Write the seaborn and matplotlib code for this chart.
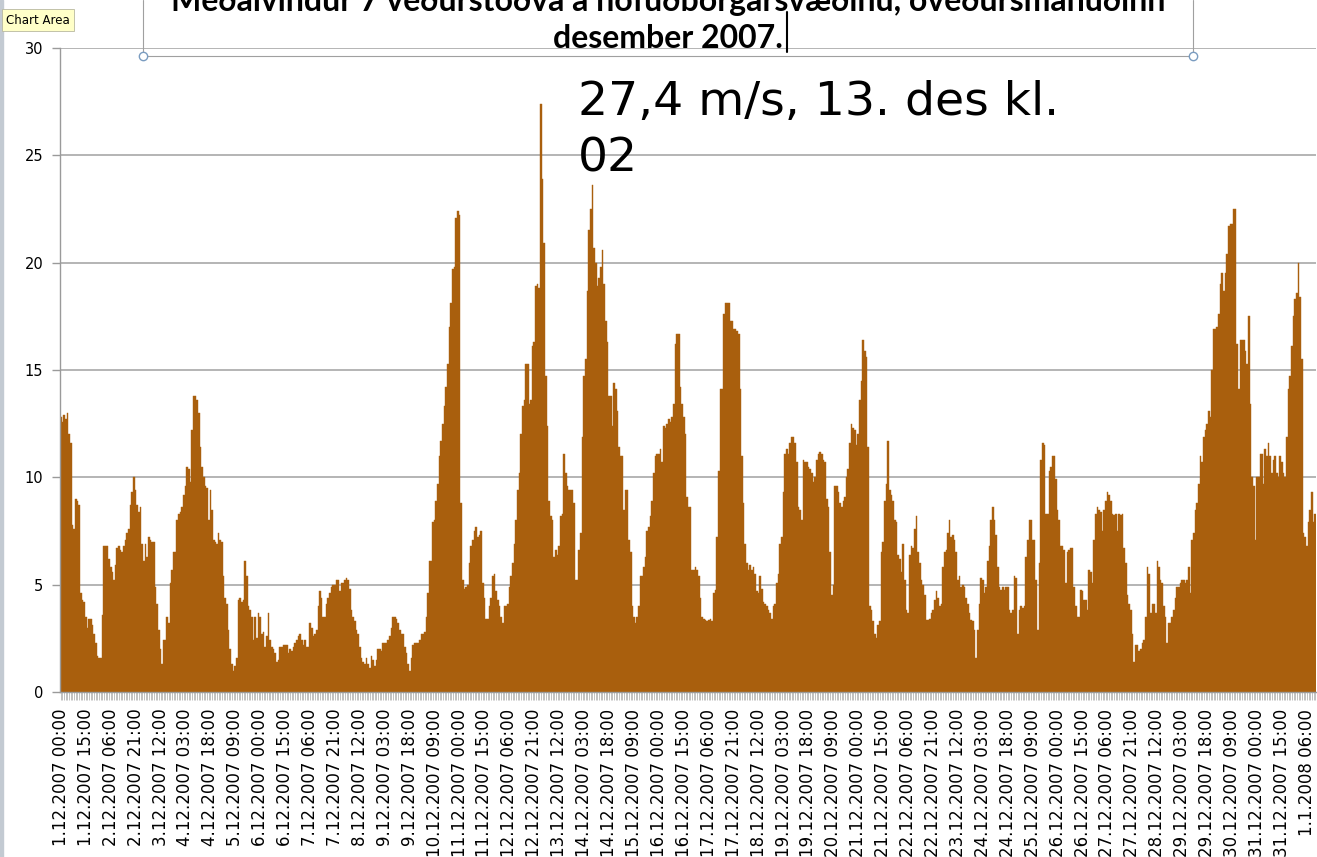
import numpy as np
import pandas as pd
import matplotlib.pyplot as plt
from matplotlib.lines import Line2D
from matplotlib.patches import Rectangle
import seaborn as sns

# hourly mean wind (m/s), one list per day
dec01 = [12.8, 12.6, 12.9, 12.7, 13.0, 12.0, 11.6, 7.8, 7.6, 9.0, 8.9, 8.7, 4.6, 4.3, 4.2, 3.5, 3.0, 3.4, 3.4, 3.1, 2.7, 2.3, 1.7, 1.6]
dec02 = [1.6, 3.6, 6.8, 6.8, 6.8, 6.2, 5.8, 5.6, 5.2, 5.9, 6.7, 6.8, 6.6, 6.5, 6.8, 7.1, 7.4, 7.6, 8.7, 9.3, 10.0, 9.4, 8.7, 8.4]
dec03 = [8.6, 6.9, 6.1, 6.9, 6.3, 7.2, 7.1, 7.0, 7.0, 4.9, 4.1, 2.9, 2.0, 1.3, 2.4, 2.4, 3.5, 3.2, 5.1, 5.7, 6.5, 6.5, 8.0, 8.3]
dec04 = [8.4, 8.6, 9.2, 9.6, 10.5, 10.4, 9.8, 12.2, 13.8, 13.8, 13.6, 13.0, 11.4, 10.5, 10.0, 9.6, 9.5, 8.0, 9.4, 8.5, 7.1, 7.0, 6.9, 7.4]
dec05 = [7.1, 7.0, 5.4, 4.4, 4.1, 2.9, 2.0, 1.3, 1.0, 1.2, 1.6, 4.3, 4.4, 4.2, 4.3, 6.1, 5.4, 4.0, 3.8, 3.5, 2.4, 3.5, 2.5, 3.7]
dec06 = [3.5, 2.7, 2.8, 2.1, 2.6, 3.7, 2.4, 2.1, 2.0, 1.8, 1.4, 1.5, 2.1, 2.1, 2.2, 2.2, 2.2, 1.8, 2.0, 1.9, 2.1, 2.3, 2.4, 2.6]
dec07 = [2.7, 2.4, 2.2, 2.4, 2.1, 2.1, 3.2, 3.0, 2.6, 2.7, 2.9, 4.0, 4.7, 4.4, 3.5, 3.5, 4.1, 4.4, 4.6, 4.9, 5.0, 5.0, 5.2, 5.2]
dec08 = [4.7, 5.1, 5.1, 5.2, 5.3, 5.2, 4.8, 3.8, 3.5, 3.3, 2.9, 2.7, 2.1, 1.6, 1.4, 1.3, 1.6, 1.3, 1.1, 1.7, 1.5, 1.2, 1.5, 2.0]
dec09 = [2.0, 1.9, 2.3, 2.3, 2.3, 2.4, 2.6, 3.0, 3.5, 3.5, 3.4, 3.2, 2.9, 2.7, 2.7, 2.1, 1.8, 1.3, 1.0, 1.6, 2.2, 2.3, 2.3, 2.3]
dec10 = [2.4, 2.7, 2.7, 2.8, 3.5, 4.6, 6.1, 6.1, 7.9, 8.0, 8.9, 9.7, 11.0, 11.7, 12.5, 13.3, 14.2, 15.3, 17.0, 18.1, 19.7, 19.8, 22.1, 22.4]
dec11 = [22.2, 8.8, 5.2, 4.8, 4.9, 5.0, 6.0, 6.8, 7.1, 7.5, 7.7, 7.2, 7.3, 7.5, 5.1, 4.4, 3.4, 3.4, 4.0, 4.4, 5.4, 5.5, 4.7, 4.3]
dec12 = [4.0, 3.5, 3.2, 4.0, 4.0, 4.1, 4.9, 5.4, 6.0, 6.9, 8.0, 9.4, 10.2, 12.0, 13.3, 13.6, 15.3, 15.3, 13.4, 13.6, 16.1, 16.3, 18.9, 19.0]
dec13 = [18.8, 27.4, 23.9, 20.9, 14.7, 12.4, 8.9, 8.2, 8.0, 6.3, 6.6, 6.4, 6.8, 8.2, 8.3, 11.1, 10.2, 9.6, 9.4, 9.4, 9.4, 8.8, 5.2, 5.2]
dec14 = [6.6, 7.4, 11.9, 14.7, 15.5, 18.7, 21.5, 22.5, 23.6, 20.7, 20.0, 18.9, 19.3, 19.8, 20.6, 19.0, 17.3, 16.3, 13.8, 13.8, 12.4, 14.4, 14.1, 13.1]
dec15 = [11.4, 11.0, 11.0, 8.5, 9.4, 9.4, 7.1, 6.5, 4.0, 3.5, 3.2, 3.5, 4.0, 5.4, 5.4, 5.8, 6.3, 7.5, 7.7, 8.2, 8.9, 10.2, 11.0, 11.1]
dec16 = [11.1, 11.3, 10.7, 12.4, 12.3, 12.5, 12.7, 12.6, 12.8, 13.4, 16.2, 16.7, 16.7, 14.2, 13.4, 12.8, 12.0, 9.1, 8.6, 8.6, 5.7, 5.7, 5.8, 5.7]
dec17 = [5.4, 4.4, 3.5, 3.4, 3.35, 3.3, 3.35, 3.4, 3.3, 4.6, 4.75, 7.2, 10.3, 14.1, 14.1, 17.6, 18.1, 18.1, 18.1, 17.3, 17.3, 16.9, 16.9, 16.8]
dec18 = [16.7, 14.1, 11.0, 8.8, 6.9, 6.0, 5.7, 5.9, 5.7, 5.8, 5.5, 4.7, 4.6, 5.4, 4.8, 4.2, 4.1, 4.0, 3.8, 3.7, 3.4, 4.0, 4.1, 5.1]
dec19 = [5.5, 6.9, 7.2, 9.3, 11.1, 11.3, 11.1, 11.6, 11.9, 11.9, 11.6, 10.7, 8.6, 8.5, 8.0, 10.8, 10.7, 10.7, 10.5, 10.4, 10.2, 9.8, 10.0, 10.8]
dec20 = [11.1, 11.2, 11.1, 10.8, 10.7, 9.0, 8.6, 6.5, 4.5, 5.0, 9.6, 9.6, 9.3, 8.8, 8.6, 8.9, 9.1, 10.0, 10.4, 11.6, 12.5, 12.3, 12.2, 11.5]
dec21 = [12.0, 13.6, 14.5, 16.4, 15.9, 15.6, 11.4, 4.0, 3.8, 3.3, 2.7, 2.5, 3.1, 3.3, 6.5, 7.0, 8.9, 9.7, 11.7, 9.4, 9.2, 8.9, 8.0, 7.9]
dec22 = [6.4, 6.2, 5.6, 6.9, 5.2, 3.8, 3.7, 6.4, 6.8, 6.7, 7.6, 8.2, 6.5, 6.0, 5.2, 5.0, 4.5, 3.35, 3.35, 3.4, 3.7, 3.8, 4.3, 4.7]
dec23 = [4.4, 4.0, 4.1, 5.8, 6.5, 6.6, 7.4, 8.0, 7.2, 7.3, 7.1, 6.5, 5.2, 5.4, 4.9, 5.0, 4.9, 4.4, 4.1, 3.7, 3.35, 3.3, 2.9, 1.6]
dec24 = [2.9, 4.1, 5.3, 5.2, 4.6, 4.9, 6.1, 6.8, 8.0, 8.6, 8.0, 7.3, 5.8, 4.9, 4.75, 4.9, 4.75, 4.9, 4.9, 3.8, 3.7, 3.8, 5.4, 5.3]
dec25 = [2.7, 3.8, 4.0, 3.9, 4.0, 6.3, 7.1, 8.0, 8.0, 7.1, 7.1, 5.2, 2.9, 6.0, 10.8, 11.6, 11.5, 8.3, 8.3, 10.3, 10.5, 11.0, 11.0, 9.9]
dec26 = [8.5, 8.0, 6.8, 6.8, 6.6, 5.1, 6.5, 6.6, 6.7, 6.7, 4.9, 4.0, 3.5, 3.5, 4.75, 4.7, 4.3, 4.3, 3.8, 5.7, 5.6, 5.1, 7.1, 8.3]
dec27 = [8.6, 8.5, 8.4, 7.5, 8.5, 8.9, 9.3, 9.2, 8.9, 8.3, 8.25, 8.3, 7.5, 8.3, 8.25, 8.3, 6.7, 6.0, 4.5, 4.1, 3.8, 2.7, 1.4, 2.2]
dec28 = [2.2, 1.9, 2.0, 2.3, 2.4, 3.5, 5.8, 5.5, 3.7, 4.1, 4.1, 3.7, 6.1, 5.8, 5.2, 5.1, 4.0, 3.5, 2.3, 3.2, 3.2, 3.5, 3.8, 4.4]
dec29 = [4.9, 4.9, 5.1, 5.2, 5.2, 5.1, 5.2, 5.8, 4.6, 7.1, 7.4, 8.5, 8.8, 9.7, 11.0, 10.7, 11.9, 12.2, 12.5, 13.1, 12.8, 15.0, 16.9, 16.9]
dec30 = [17.0, 17.6, 19.0, 19.5, 18.7, 19.5, 20.4, 21.7, 21.8, 21.8, 22.5, 22.5, 16.2, 14.1, 16.4, 16.4, 16.4, 15.9, 15.3, 17.5, 13.4, 10.0, 9.6, 7.1]
dec31 = [10.0, 10.0, 11.1, 11.1, 9.7, 11.3, 11.0, 11.6, 11.0, 10.2, 10.8, 11.0, 10.2, 10.0, 11.0, 10.7, 10.2, 10.0, 11.9, 14.1, 14.7, 16.1, 17.5, 18.3]
jan01 = [18.6, 20.0, 18.4, 15.5, 7.4, 7.2, 6.8, 7.9, 8.5, 9.3, 7.9, 8.3]

days = [dec01, dec02, dec03, dec04, dec05, dec06, dec07, dec08, dec09, dec10,
        dec11, dec12, dec13, dec14, dec15, dec16, dec17, dec18, dec19, dec20,
        dec21, dec22, dec23, dec24, dec25, dec26, dec27, dec28, dec29, dec30,
        dec31, jan01]
wind = [v for d in days for v in d]
times = pd.date_range("2007-12-01 00:00", periods=len(wind), freq="h")
labels = [f"{t.day}.{t.month}.{t.year} {t:%H:%M}" for t in times]
df = pd.DataFrame({"hour": np.arange(len(wind)), "wind": wind})

title1 = "Meðalvindur 7 veðurstöðva á höfuðborgarsvæðinu, óveðursmánuðinn"
title2 = "desember 2007."
note = "27,4 m/s, 13. des kl.\n02"

sns.set_style("white")
plt.rcParams["font.family"] = ["DejaVu Sans"]
plt.rcParams["text.color"] = "black"

W, H = 1317, 857
fig = plt.figure(figsize=(W / 100, H / 100), dpi=100)
ax = fig.add_axes([60 / W, 1 - 692 / H, (1316 - 60) / W, (692 - 48) / H])

bar_col = "#a95f0d"
sns.barplot(data=df, x="hour", y="wind", color=bar_col, saturation=1,
            width=1.0, errorbar=None, linewidth=0.3, edgecolor=bar_col, ax=ax)

ax.set_xlim(-0.5, len(wind) - 0.5)
ax.set_ylim(0, 30)
ax.set_yticks(range(0, 31, 5))
ax.set_xticks(range(0, len(wind), 15))
ax.set_xticklabels(labels[::15])
ax.set_xticks(range(len(wind)), minor=True)
ax.set_xlabel("")
ax.set_ylabel("")

ax.yaxis.grid(True, color="#a8a8a8", lw=1.2)
ax.set_axisbelow(True)
for s in ["top", "right"]:
    ax.spines[s].set_visible(False)
for s in ["left", "bottom"]:
    ax.spines[s].set_color("#9a9a9a")
    ax.spines[s].set_linewidth(1)

ax.tick_params(axis="x", which="both", bottom=True, direction="out",
               length=6, width=0.5, color="#a8a8a8")
ax.tick_params(axis="x", which="major", labelrotation=90, labelsize=12, pad=6,
               labelcolor="black")
ax.tick_params(axis="y", left=True, length=6, width=1, color="#9a9a9a",
               labelsize=10.5, pad=6, labelcolor="black")

# annotation of the maximum
fig.text(578 / W, 1 - 80 / H, note, fontsize=34, va="top", ha="left",
         color="black", linespacing=1.33)

# title (cut off at the top, as in the screenshot)
tfont = dict(fontsize=23, fontweight="bold", family=["Lato", "DejaVu Sans"],
             ha="center", color="black")
fig.text(668 / W, 1 - 11 / H, title1, va="baseline", **tfont)
fig.text(668 / W, 1 - 48 / H, title2, va="baseline", **tfont)


def px(x, y):
    return x / W, 1 - y / H


# selection frame round the title and the text cursor
for xs, ys in [([143, 143], [0, 56]), ([1193, 1193], [0, 56]), ([143, 1193], [56, 56])]:
    fx, fy = zip(*[px(a, b) for a, b in zip(xs, ys)])
    fig.add_artist(Line2D(fx, fy, color="#a0a0a0", lw=0.8, transform=fig.transFigure))
for hx in [143, 1193]:
    fig.add_artist(Line2D([px(hx, 56)[0]], [px(hx, 56)[1]], marker="o", markersize=6,
                          mfc="white", mec="#7a9cc0", mew=1, transform=fig.transFigure))
fx, fy = zip(px(787, 12), px(787, 52))
fig.add_artist(Line2D(fx, fy, color="black", lw=1.5, transform=fig.transFigure))

# window edge and tooltip
fig.patches.append(Rectangle((0, 0), 3 / W, 1, transform=fig.transFigure,
                             color="#c3cad2", zorder=0))
fig.text(6 / W, 1 - 20 / H, "Chart Area", fontsize=8.5, va="center",
         family=["Liberation Sans Narrow", "DejaVu Sans"],
         bbox=dict(boxstyle="square,pad=0.35", fc="#ffffc8", ec="#b8b8a0", lw=0.6))

fig.savefig("out.png", dpi=100)
